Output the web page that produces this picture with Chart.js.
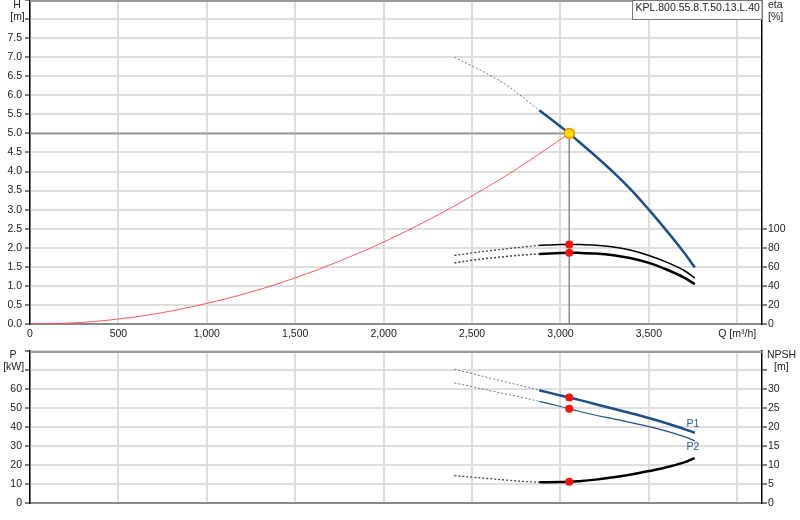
<!DOCTYPE html>
<html><head><meta charset="utf-8">
<script src="https://cdn.jsdelivr.net/npm/chart.js@4.4.0/dist/chart.umd.min.js"></script>
<style>
html,body{margin:0;padding:0;background:#fff;}
#wrap{position:relative;width:800px;height:520px;overflow:hidden;}
canvas{position:absolute;left:0;}
#c1{top:0;} #c2{top:346px;}
</style></head><body>
<div id="wrap"><canvas id="c1" width="800" height="346"></canvas><canvas id="c2" width="800" height="174"></canvas></div>
<script>
// ---- tick labels ----
const qTicks = [0,500,1000,1500,2000,2500,3000,3500,4000];
const qTickLabels = ['0','500','1,000','1,500','2,000','2,500','3,000','3,500','Q [m³/h]'];
const hTicks = [0,0.5,1,1.5,2,2.5,3,3.5,4,4.5,5,5.5,6,6.5,7,7.5,8,8.5];
const hTickLabels = ['0.0','0.5','1.0','1.5','2.0','2.5','3.0','3.5','4.0','4.5','5.0','5.5','6.0','6.5','7.0','7.5','',''];
const etaTicks = [0,20,40,60,80,100];
const pTicks = [0,10,20,30,40,50,60,70,80];
const pTickLabels = ['0','10','20','30','40','50','60','',''];
const npshTicks = [0,5,10,15,20,25,30,35];
const npshTickLabels = ['0','5','10','15','20','25','30',''];

// ---- flow values ----
const qDash = [2400,2500,2600,2700,2800,2880];
const qMain = [2880,3000,3050,3100,3200,3300,3400,3500,3600,3700,3760];
const qSys  = [0,250,500,750,1000,1250,1500,1750,2000,2250,2500,2750,3050];

// ---- head H [m] ----
const hDash = [7.0,6.77,6.53,6.25,5.90,5.61];
const hMain = [5.61,5.18,5.0,4.8,4.4,3.98,3.52,3.0,2.45,1.87,1.48];
const hSys  = [0,0.03,0.13,0.3,0.54,0.84,1.21,1.65,2.15,2.72,3.36,4.06,5.0];

// ---- efficiency eta [%] ----
const etaUpDash  = [72.3,75.0,77.3,79.5,81.5,83.0];
const etaUpMain  = [83.0,83.8,84.0,84.0,83.2,81.3,77.8,72.3,65.3,56.5,48.5];
const etaLowDash = [64.5,67.2,69.5,71.4,73.0,74.0];
const etaLowMain = [74.0,74.9,75.1,75.1,74.4,72.6,69.4,64.5,57.5,49.0,42.0];

// ---- power P [kW] ----
const p1Dash = [70.4,68.1,65.8,63.5,61.2,59.3];
const p1Main = [59.3,56.6,55.5,54.4,52.0,49.6,47.2,44.7,42.0,38.9,37.0];
const p2Dash = [63.2,61.2,59.2,57.2,55.2,53.5];
const p2Main = [53.5,50.8,49.6,48.4,46.2,44.3,42.3,40.2,37.8,34.9,32.7];

// ---- NPSH [m] ----
const npshDash = [7.2,6.8,6.4,6.0,5.65,5.45];
const npshMain = [5.45,5.5,5.6,5.75,6.15,6.75,7.5,8.4,9.4,10.7,11.8];

// ---- duty point ----
const qDuty = 3050;
const hDuty = 5.0;
const etaDuty = [84.0,75.1];
const pDuty = [55.5,49.6];
const npshDuty = [5.6];

const productName = 'KPL.800.55.8.T.50.13.L.40';

// ---- helpers ----
const FONT_FAMILY = '"Liberation Sans", Arial, sans-serif';
const FS = 10.5;
const TXT = '#222';
Chart.defaults.font.family = FONT_FAMILY;
Chart.defaults.font.size = FS;
Chart.defaults.color = TXT;

const pts = (q, v) => q.map((x, i) => ({x: x, y: v[i]}));
const solid = (data, color, w, axis, order) => ({data, borderColor: color, borderWidth: w, pointRadius: 0, fill: false, yAxisID: axis, tension: 0.35, order: order ?? 2});
const dashed = (data, color, w, axis) => ({data, borderColor: color, borderWidth: w, borderDash: [2,2], pointRadius: 0, fill: false, yAxisID: axis, tension: 0.35, order: 3});
const dots = (data, axis) => ({data, showLine: false, pointRadius: 4, pointHoverRadius: 4, pointBackgroundColor: '#ff1010', pointBorderWidth: 0, yAxisID: axis, order: 0});

const GRID = '#dedede';
const setTicks = arr => s => { s.ticks = arr.map(v => ({value: v})); };
const xAxis = (showLabels, h) => ({
  type: 'linear', min: 0, max: 4140,
  afterBuildTicks: setTicks(qTicks),
  ticks: {display: showLabels, autoSkip: false, maxRotation: 0, padding: 4, color: TXT,
          callback: v => { const i = qTicks.indexOf(v); return i >= 0 ? qTickLabels[i] : ''; }},
  grid: {color: GRID, lineWidth: 2, drawTicks: false},
  border: {color: '#8a8a8a', width: 2},
  afterFit: s => { s.height = h; s.paddingLeft = 0; s.paddingRight = 0; }
});
const yAxis = (pos, min, max, ticksArr, labelsArr, onArea, w) => ({
  type: 'linear', position: pos, min, max,
  afterBuildTicks: setTicks(ticksArr),
  ticks: {autoSkip: false, padding: pos === 'left' ? 3 : 1, color: TXT,
          callback: v => { const i = ticksArr.indexOf(v); return labelsArr ? labelsArr[i] : String(v); }},
  grid: {display: true, drawOnChartArea: onArea, color: GRID, lineWidth: 2, tickColor: '#000', tickLength: 5, tickWidth: 1},
  border: {color: '#000', width: 1.5},
  afterFit: s => { s.width = w; s.paddingTop = 0; s.paddingBottom = 0; }
});

function txt(ctx, s, x, y, align) {
  ctx.save();
  ctx.font = FS + 'px ' + FONT_FAMILY;
  ctx.fillStyle = TXT;
  ctx.textAlign = align;
  ctx.textBaseline = 'middle';
  ctx.fillText(s, x, y);
  ctx.restore();
}

const topBorder = {
  id: 'topBorder',
  beforeDatasetsDraw(chart) {
    const a = chart.chartArea, ctx = chart.ctx;
    ctx.save();
    ctx.strokeStyle = '#9a9a9a';
    ctx.lineWidth = 2;
    ctx.beginPath();
    ctx.moveTo(a.left, a.top + 1);
    ctx.lineTo(a.right, a.top + 1);
    ctx.stroke();
    ctx.restore();
  }
};

const topTitles = {
  id: 'topTitles',
  afterDraw(chart) {
    const a = chart.chartArea, ctx = chart.ctx;
    txt(ctx, 'H', 17, 5.5, 'center');
    txt(ctx, '[m]', 17.5, 17.5, 'center');
    txt(ctx, 'eta', a.right + 6, 5.5, 'left');
    txt(ctx, '[%]', a.right + 6, 17.5, 'left');
    // product box
    ctx.save();
    ctx.fillStyle = '#fff';
    ctx.fillRect(632.5, 0.5, a.right - 632.5, 19);
    ctx.strokeStyle = '#777';
    ctx.lineWidth = 1;
    ctx.strokeRect(632.5, 0.5, a.right - 632.5, 19);
    ctx.restore();
    txt(ctx, productName, 635.5, 8, 'left');
  }
};

const bottomTitles = {
  id: 'bottomTitles',
  afterDraw(chart) {
    const a = chart.chartArea, ctx = chart.ctx;
    txt(ctx, 'P', 13, a.top + 4, 'center');
    txt(ctx, '[kW]', 13.7, a.top + 16.5, 'center');
    txt(ctx, 'NPSH', a.right + 5, a.top + 4, 'left');
    txt(ctx, '[m]', a.right + 12, a.top + 16.5, 'left');
    const xs = chart.scales.x, ys = chart.scales.y;
    const xe = xs.getPixelForValue(qMain[qMain.length - 1]);
    ctx.save();
    ctx.font = FS + 'px ' + FONT_FAMILY;
    ctx.fillStyle = '#2a5f9e';
    ctx.textAlign = 'center';
    ctx.textBaseline = 'middle';
    ctx.fillText('P1', xe - 2, ys.getPixelForValue(p1Main[p1Main.length - 1]) - 9);
    ctx.fillText('P2', xe - 2, ys.getPixelForValue(p2Main[p2Main.length - 1]) + 6);
    ctx.restore();
  }
};

const BLUE = '#1d4f86';
const BLUE_DASH = '#5f7594';
const DARK_DASH = '#444';

new Chart(document.getElementById('c1'), {
  type: 'line',
  data: {datasets: [
    {data: [{x: qDuty, y: hDuty}], showLine: false, pointRadius: 5, pointBackgroundColor: '#ffe000', pointBorderColor: '#ff8a00', pointBorderWidth: 1.5, yAxisID: 'y', order: 0},
    dots(etaDuty.map(v => ({x: qDuty, y: v})), 'y2'),
    solid(pts(qMain, hMain), BLUE, 2.5, 'y', 1),
    dashed(pts(qDash, hDash), BLUE_DASH, 1, 'y'),
    solid(pts(qMain, etaUpMain), '#000', 1.5, 'y2', 1),
    dashed(pts(qDash, etaUpDash), DARK_DASH, 1.3, 'y2'),
    solid(pts(qMain, etaLowMain), '#000', 2.5, 'y2', 1),
    dashed(pts(qDash, etaLowDash), DARK_DASH, 1.5, 'y2'),
    solid(pts(qSys, hSys), 'rgba(255,70,70,0.9)', 1, 'y', 2),
    {data: [{x: 0, y: hDuty}, {x: qDuty, y: hDuty}], borderColor: '#9a9a9a', borderWidth: 2, pointRadius: 0, yAxisID: 'y', order: 4},
    {data: [{x: qDuty, y: 0}, {x: qDuty, y: hDuty}], borderColor: '#8a8a8a', borderWidth: 1.5, pointRadius: 0, yAxisID: 'y', order: 4}
  ]},
  options: {
    responsive: false, animation: false, events: [],
    layout: {autoPadding: false, padding: {top: 0, left: 0, right: 0, bottom: 0}},
    plugins: {legend: {display: false}, tooltip: {enabled: false}},
    scales: {
      x: xAxis(true, 22),
      y: yAxis('left', 0, 8.5, hTicks, hTickLabels, true, 30),
      y2: yAxis('right', 0, 342, etaTicks, null, false, 38)
    }
  },
  plugins: [topBorder, topTitles]
});

new Chart(document.getElementById('c2'), {
  type: 'line',
  data: {datasets: [
    dots(pDuty.map(v => ({x: qDuty, y: v})), 'y'),
    dots(npshDuty.map(v => ({x: qDuty, y: v})), 'y2'),
    solid(pts(qMain, p1Main), BLUE, 2.5, 'y', 1),
    dashed(pts(qDash, p1Dash), BLUE_DASH, 1, 'y'),
    solid(pts(qMain, p2Main), BLUE, 1.2, 'y', 1),
    dashed(pts(qDash, p2Dash), BLUE_DASH, 1, 'y'),
    solid(pts(qMain, npshMain), '#000', 2.5, 'y2', 1),
    dashed(pts(qDash, npshDash), DARK_DASH, 1.3, 'y2')
  ]},
  options: {
    responsive: false, animation: false, events: [],
    layout: {autoPadding: false, padding: {top: 5, left: 0, right: 0, bottom: 0}},
    plugins: {legend: {display: false}, tooltip: {enabled: false}},
    scales: {
      x: xAxis(false, 17),
      y: yAxis('left', 0, 80, pTicks, pTickLabels, true, 30),
      y2: yAxis('right', 0, 40, npshTicks, npshTickLabels, false, 38)
    }
  },
  plugins: [topBorder, bottomTitles]
});
</script>
</body></html>
